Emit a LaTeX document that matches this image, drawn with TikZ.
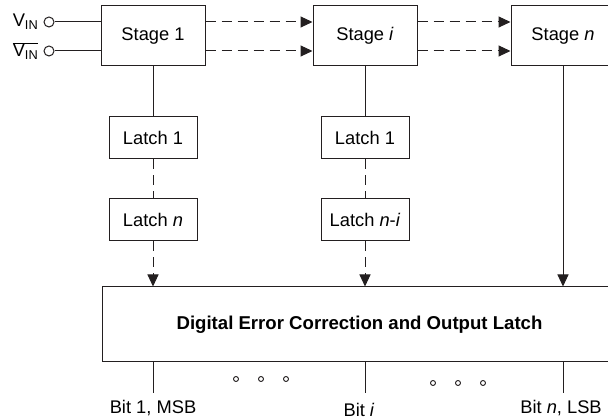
\documentclass[tikz,border=0pt]{standalone}
\usepackage{fontspec}
\setmainfont{Liberation Sans}
\usetikzlibrary{arrows.meta}

\definecolor{ink}{RGB}{35,31,32}
\tikzset{
	txt/.style={font=\fontsize{18.3}{21}\selectfont},
	blk/.style={draw=ink, line width=1pt, inner sep=0pt, txt},
	stagebox/.style={blk, minimum width=104pt, minimum height=59.5pt},
	latchbox/.style={blk, minimum width=88pt, minimum height=42pt},
	wire/.style={draw=ink, line width=1pt},
	dashwire/.style={wire, dash pattern=on 10pt off 6pt},
	port/.style={wire, circle, minimum size=10pt, inner sep=0pt, fill=white},
	dot/.style={draw=ink, line width=0.9pt, circle, minimum size=5pt, inner sep=0pt},
	>={Triangle[length=12pt, width=11pt]},
}

\begin{document}
\begin{tikzpicture}[x=1pt, y=-1pt]
	\useasboundingbox (0,0) rectangle (608,419);
	\clip (0,0) rectangle (608,419);

	% stages
	\node[stagebox] (st1) at (153,35.75) {Stage 1};
	\node[stagebox] (sti) at (365,35.75) {Stage \textit{i}};
	\node[stagebox] (stn) at (563,35.75) {Stage \textit{n}};

	% inputs
	\node[port] (ip) at (49,22) {};
	\node[port] (in) at (49,51) {};
	\node[txt, anchor=east, inner sep=0pt, xshift=-5pt] (vp) at (ip.west) {V\textsubscript{IN}};
	\node[txt, anchor=east, inner sep=0pt, xshift=-5pt] (vn) at (in.west) {$\overline{\mbox{V\textsubscript{IN}}}$};
	\draw[wire] (ip.east) -- (ip.east -| st1.west);
	\draw[wire] (in.east) -- (in.east -| st1.west);

	% stage to stage
	\draw[dashwire, ->] (ip -| st1.east) -- (ip -| sti.west);
	\draw[dashwire, ->] (in -| st1.east) -- (in -| sti.west);
	\draw[dashwire, ->] (ip -| sti.east) -- (ip -| stn.west);
	\draw[dashwire, ->] (in -| sti.east) -- (in -| stn.west);

	% latches
	\node[latchbox] (la1) at (153,138) {Latch 1};
	\node[latchbox] (lan) at (153,220) {Latch \textit{n}};
	\node[latchbox] (lb1) at (365,138) {Latch 1};
	\node[latchbox] (lbn) at (365,220) {Latch \textit{n}-\textit{i}};

	% correction block
	\node[blk, minimum width=515pt, minimum height=75pt] (dec) at (359.5,324.5)
		{\fontsize{18.6}{21}\selectfont\bfseries Digital Error Correction and Output Latch};

	\draw[wire] (st1) -- (la1);
	\draw[dashwire] (la1) -- (lan);
	\draw[dashwire, ->] (lan.south) -- (lan.south |- dec.north);
	\draw[wire] (sti) -- (lb1);
	\draw[dashwire] (lb1) -- (lbn);
	\draw[dashwire, ->] (lbn.south) -- (lbn.south |- dec.north);
	\draw[wire, ->] (stn.south) -- (stn.south |- dec.north);

	% outputs
	\coordinate (o1) at (153,393);
	\coordinate (oi) at (365,393);
	\coordinate (on) at (563,393);
	\draw[wire] (o1 |- dec.south) -- (o1);
	\draw[wire] (oi |- dec.south) -- (oi);
	\draw[wire] (on |- dec.south) -- (on);
	\node[txt] (b1) at (153,408) {Bit 1, MSB};
	\node[txt] (bi) at (359,410) {Bit \textit{i}};
	\node[txt] (bn) at (561,408) {Bit \textit{n}, LSB};

	% dots
	\foreach \x in {236,261,286}
		\node[dot] (d\x) at (\x,379) {};
	\foreach \x in {433,458,483}
		\node[dot] (d\x) at (\x,383) {};
\end{tikzpicture}
\end{document}
